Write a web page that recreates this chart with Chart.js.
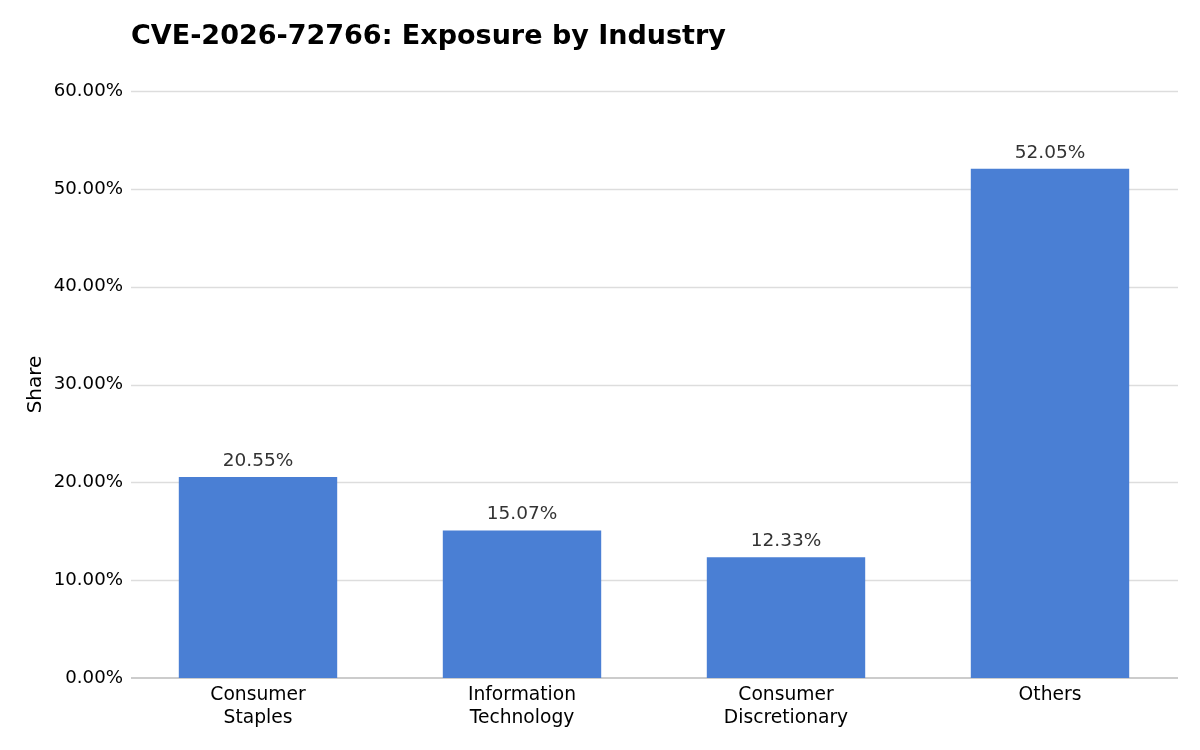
<!DOCTYPE html>
<html>
<head>
<meta charset="utf-8">
<script src="https://cdn.jsdelivr.net/npm/chart.js@4"></script>
<style>
html,body{margin:0;padding:0;background:#fff;}
canvas{display:block;}
</style>
</head>
<body>
<canvas id="c" width="1200" height="750"></canvas>
<script>
const titleText = 'CVE-2026-72766: Exposure by Industry';
const categories = [['Consumer','Staples'], ['Information','Technology'], ['Consumer','Discretionary'], ['Others']];
const shares = [20.55, 15.07, 12.33, 52.05];
const yTicks = [0, 10, 20, 30, 40, 50, 60];
const yAxisTitle = 'Share';

const FONT = "'DejaVu Sans', sans-serif";

const customPlugin = {
  id: 'custom',
  beforeDatasetsDraw(chart) {
    const {ctx, chartArea, scales} = chart;
    const y = scales.y;
    ctx.save();
    ctx.strokeStyle = '#dddddd';
    ctx.lineWidth = 1.5;
    y.ticks.forEach(t => {
      if (t.value === 0) return;
      const py = Math.round(y.getPixelForValue(t.value)) + 0.5;
      ctx.beginPath();
      ctx.moveTo(chartArea.left + 5, py);
      ctx.lineTo(chartArea.right - 4, py);
      ctx.stroke();
    });
    ctx.strokeStyle = '#cccccc';
    ctx.lineWidth = 2;
    const p0 = Math.round(y.getPixelForValue(0));
    ctx.beginPath();
    ctx.moveTo(chartArea.left + 5, p0);
    ctx.lineTo(chartArea.right - 4, p0);
    ctx.stroke();
    ctx.restore();
  },
  afterDatasetsDraw(chart) {
    const {ctx, chartArea} = chart;
    const meta = chart.getDatasetMeta(0);
    ctx.save();
    ctx.fillStyle = '#333333';
    ctx.font = "18.5px " + FONT;
    ctx.textAlign = 'center';
    ctx.textBaseline = 'middle';
    meta.data.forEach((bar, i) => {
      const v = chart.data.datasets[0].data[i];
      ctx.fillText(v.toFixed(2) + '%', bar.x, bar.y - 16);
    });
    ctx.fillStyle = '#000000';
    ctx.font = "bold 27px " + FONT;
    ctx.textAlign = 'left';
    ctx.fillText(titleText, chartArea.left + 5, 37);
    ctx.restore();
  }
};

new Chart(document.getElementById('c'), {
  type: 'bar',
  data: {
    labels: categories,
    datasets: [{
      data: shares,
      backgroundColor: '#4a7fd4',
      borderWidth: 0,
      barPercentage: 0.6,
      categoryPercentage: 1.0
    }]
  },
  options: {
    responsive: false,
    devicePixelRatio: 1,
    animation: false,
    layout: { padding: { top: 91, right: 18, left: 0, bottom: 0 } },
    plugins: { legend: { display: false }, tooltip: { enabled: false }, title: { display: false } },
    scales: {
      x: {
        grid: { display: false, drawTicks: false },
        border: { display: false },
        ticks: { color: '#000', font: { family: FONT, size: 18.7 }, padding: 6, maxRotation: 0 },
        afterFit(s) { s.height = 72; }
      },
      y: {
        min: 0,
        max: 60,
        afterBuildTicks(s) { s.ticks = yTicks.map(v => ({ value: v })); },
        grid: { display: false, drawTicks: false },
        border: { display: false },
        ticks: {
          color: '#000',
          font: { family: FONT, size: 18.2 },
          padding: 3,
          callback: v => v.toFixed(2) + '%'
        },
        title: { display: true, text: yAxisTitle, color: '#000', font: { family: FONT, size: 20 }, padding: { top: 24, bottom: 0 } },
        afterFit(s) { s.width = 126; }
      }
    }
  },
  plugins: [customPlugin]
});
</script>
</body>
</html>
